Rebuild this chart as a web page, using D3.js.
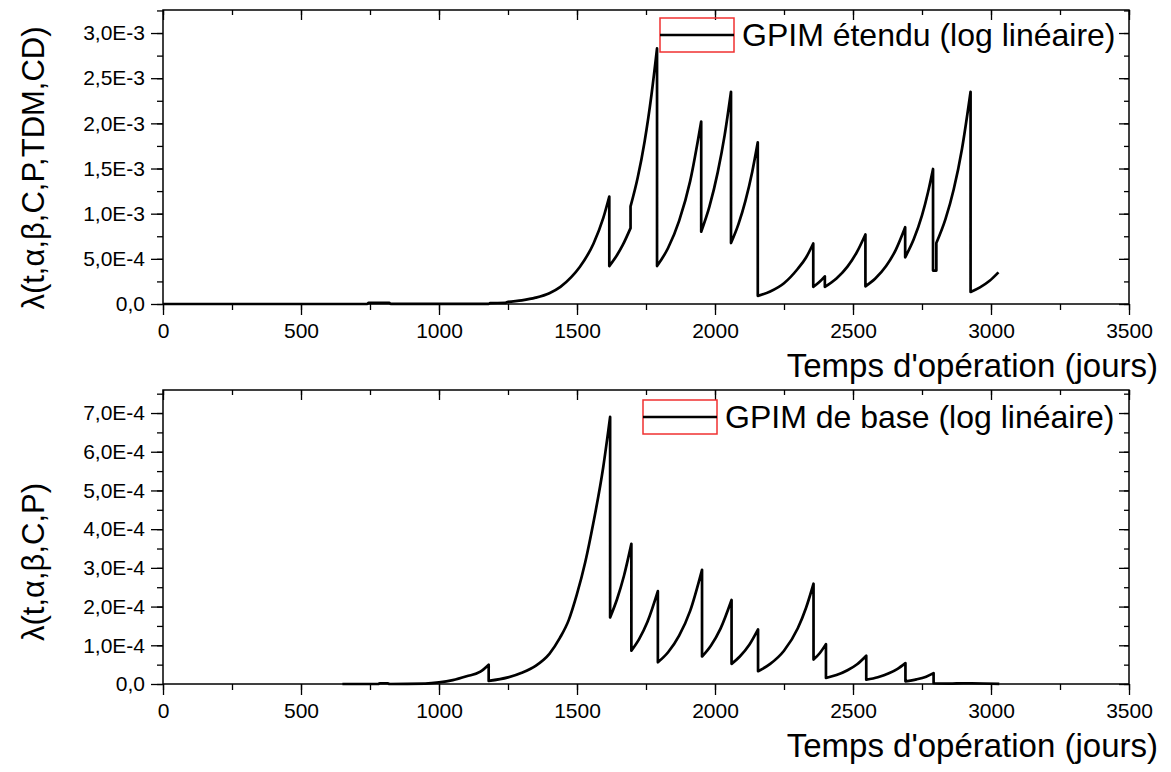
<!DOCTYPE html>
<html>
<head>
<meta charset="utf-8">
<title>GPIM</title>
<style>
  body { margin: 0; background: #fff; }
  svg text { font-family: "Liberation Sans", Arial, sans-serif; fill: #000; }
  .axis path { display: none; }
  .axis line { stroke: #000; stroke-width: 1.3px; }
  .axis text { font-size: 21px; }
</style>
</head>
<body>
<svg id="chart" width="1171" height="772"></svg>
<script src="https://cdnjs.cloudflare.com/ajax/libs/d3/7.8.5/d3.min.js"></script>
<script>
// top panel: GPIM étendu (days, rate)
var topDays = [0, 740, 745, 820, 825, 1180, 1185, 1240, 1245, 1300, 1350, 1400, 1440, 1480, 1510, 1560, 1595, 1617,
  1617, 1640, 1665, 1694,
  1694, 1720, 1745, 1770, 1790,
  1790, 1830, 1870, 1910, 1950,
  1950, 1980, 2010, 2035, 2058,
  2058, 2085, 2110, 2135, 2155,
  2155, 2200, 2250, 2300, 2330, 2356,
  2356, 2377, 2398,
  2398, 2440, 2480, 2515, 2545,
  2545, 2580, 2620, 2655, 2689,
  2689, 2720, 2750, 2772, 2790,
  2790, 2802,
  2802, 2835, 2865, 2895, 2926,
  2926, 2960, 2995, 3027];
var topRate = [0, 0, 0.012e-3, 0.012e-3, 0.002e-3, 0.002e-3, 0.01e-3, 0.012e-3, 0.02e-3, 0.04e-3, 0.07e-3, 0.12e-3, 0.19e-3, 0.30e-3, 0.41e-3, 0.67e-3, 0.95e-3, 1.19e-3,
  0.42e-3, 0.517e-3, 0.648e-3, 0.84e-3,
  1.08e-3, 1.40e-3, 1.80e-3, 2.32e-3, 2.83e-3,
  0.42e-3, 0.62e-3, 0.92e-3, 1.36e-3, 2.02e-3,
  0.80e-3, 1.08e-3, 1.46e-3, 1.87e-3, 2.35e-3,
  0.675e-3, 0.885e-3, 1.14e-3, 1.465e-3, 1.79e-3,
  0.09e-3, 0.139e-3, 0.23e-3, 0.39e-3, 0.515e-3, 0.67e-3,
  0.19e-3, 0.24e-3, 0.306e-3,
  0.19e-3, 0.283e-3, 0.414e-3, 0.58e-3, 0.77e-3,
  0.196e-3, 0.28e-3, 0.42e-3, 0.60e-3, 0.85e-3,
  0.517e-3, 0.716e-3, 0.98e-3, 1.24e-3, 1.495e-3,
  0.37e-3, 0.37e-3,
  0.675e-3, 0.94e-3, 1.27e-3, 1.72e-3, 2.35e-3,
  0.133e-3, 0.184e-3, 0.257e-3, 0.35e-3];

// bottom panel: GPIM de base
var baseDays = [650, 780, 785, 815, 820, 950, 1000, 1050, 1100, 1150, 1180,
  1180, 1250, 1300, 1350, 1400, 1438, 1470, 1499, 1530, 1559, 1595, 1620,
  1620, 1645, 1670, 1697,
  1697, 1725, 1755, 1793,
  1793, 1830, 1870, 1910, 1953,
  1953, 1985, 2020, 2060,
  2060, 2090, 2125, 2156,
  2156, 2200, 2250, 2300, 2330, 2357,
  2357, 2380, 2402,
  2402, 2440, 2480, 2515, 2548,
  2548, 2590, 2630, 2660, 2690,
  2690, 2730, 2765, 2792,
  2792, 2850, 2900, 2930, 3030];
var baseRate = [0, 0, 0.02e-4, 0.02e-4, 0, 0.01e-4, 0.04e-4, 0.1e-4, 0.2e-4, 0.32e-4, 0.5e-4,
  0.08e-4, 0.17e-4, 0.29e-4, 0.47e-4, 0.78e-4, 1.19e-4, 1.65e-4, 2.3e-4, 3.15e-4, 4.15e-4, 5.6e-4, 6.9e-4,
  1.72e-4, 2.19e-4, 2.79e-4, 3.62e-4,
  0.86e-4, 1.16e-4, 1.60e-4, 2.40e-4,
  0.56e-4, 0.82e-4, 1.25e-4, 1.89e-4, 2.95e-4,
  0.71e-4, 0.99e-4, 1.43e-4, 2.17e-4,
  0.52e-4, 0.71e-4, 1.02e-4, 1.41e-4,
  0.33e-4, 0.52e-4, 0.86e-4, 1.44e-4, 1.97e-4, 2.59e-4,
  0.63e-4, 0.8e-4, 1.03e-4,
  0.155e-4, 0.23e-4, 0.355e-4, 0.51e-4, 0.73e-4,
  0.11e-4, 0.176e-4, 0.275e-4, 0.385e-4, 0.54e-4,
  0.07e-4, 0.12e-4, 0.19e-4, 0.28e-4,
  0.02e-4, 0.01e-4, 0.02e-4, 0.02e-4, 0.005e-4];

var xTicks = [0, 500, 1000, 1500, 2000, 2500, 3000, 3500];
var topTicks = [0, 5e-4, 1e-3, 1.5e-3, 2e-3, 2.5e-3, 3e-3];
var topTickLabels = ["0,0", "5,0E-4", "1,0E-3", "1,5E-3", "2,0E-3", "2,5E-3", "3,0E-3"];
var baseTicks = [0, 1e-4, 2e-4, 3e-4, 4e-4, 5e-4, 6e-4, 7e-4];
var baseTickLabels = ["0,0", "1,0E-4", "2,0E-4", "3,0E-4", "4,0E-4", "5,0E-4", "6,0E-4", "7,0E-4"];

var svg = d3.select("#chart");
var left = 163, right = 1129;

function panel(o) {
  var x = d3.scaleLinear().domain([0, 3500]).range([left, right]);
  var y = d3.scaleLinear().domain([0, o.ymax]).range([o.bottom, o.top]);
  var g = svg.append("g");

  var xMinor = d3.range(0, 3501, 250);
  var yMinor = d3.range(0, o.ymax + 1e-12, o.minorStep);

  // minor ticks
  g.append("g").attr("class", "axis").attr("transform", "translate(0," + o.bottom + ")")
    .call(d3.axisBottom(x).tickValues(xMinor).tickSize(6).tickFormat(""));
  g.append("g").attr("class", "axis").attr("transform", "translate(0," + o.top + ")")
    .call(d3.axisBottom(x).tickValues(xMinor).tickSize(5).tickFormat(""));
  g.append("g").attr("class", "axis").attr("transform", "translate(" + left + ",0)")
    .call(d3.axisLeft(y).tickValues(yMinor).tickSize(6).tickFormat(""));
  g.append("g").attr("class", "axis").attr("transform", "translate(" + right + ",0)")
    .call(d3.axisLeft(y).tickValues(yMinor).tickSize(5).tickFormat(""));

  // major ticks
  g.append("g").attr("class", "axis").attr("transform", "translate(0," + o.bottom + ")")
    .call(d3.axisBottom(x).tickValues(xTicks).tickSize(11).tickPadding(8).tickFormat(d3.format("d")));
  g.append("g").attr("class", "axis").attr("transform", "translate(0," + o.top + ")")
    .call(d3.axisBottom(x).tickValues(xTicks).tickSize(10).tickFormat(""));
  g.append("g").attr("class", "axis").attr("transform", "translate(" + left + ",0)")
    .call(d3.axisLeft(y).tickValues(o.ticks).tickSize(12).tickPadding(6)
      .tickFormat(function(d, i){ return o.labels[i]; }));
  g.append("g").attr("class", "axis").attr("transform", "translate(" + right + ",0)")
    .call(d3.axisLeft(y).tickValues(o.ticks).tickSize(10).tickFormat(""));

  g.append("rect")
    .attr("x", left).attr("y", o.top)
    .attr("width", right - left).attr("height", o.bottom - o.top)
    .attr("fill", "none").attr("stroke", "#000").attr("stroke-width", 1.5);

  // split the series at the jumps (repeated day), smooth each piece, join with verticals
  var pts = d3.zip(o.days, o.rate);
  var pieces = [[pts[0]]];
  for (var i = 1; i < pts.length; i++) {
    if (pts[i][0] === pts[i - 1][0]) pieces.push([pts[i]]);
    else pieces[pieces.length - 1].push(pts[i]);
  }
  var line = d3.line().curve(d3.curveMonotoneX)
    .x(function(d){ return x(d[0]); }).y(function(d){ return y(d[1]); });
  var d = pieces.map(function(p, k){
    var s = p.length > 1 ? line(p) : "M" + x(p[0][0]) + "," + y(p[0][1]);
    return k === 0 ? s : "L" + s.slice(1);
  }).join("");
  g.append("path")
    .attr("d", d)
    .attr("fill", "none").attr("stroke", "#000")
    .attr("stroke-width", 2.7).attr("stroke-linejoin", "round");

  // x title
  g.append("text").attr("x", 1158).attr("y", o.bottom + 73)
    .attr("text-anchor", "end").style("font-size", "33px")
    .text("Temps d'opération (jours)");

  // y title
  g.append("text")
    .attr("transform", "translate(44," + o.ycenter + ") rotate(-90)")
    .attr("text-anchor", "middle").style("font-size", "31px")
    .text(o.ytitle);

  // legend (with the red selection box)
  g.append("rect").attr("x", o.legX).attr("y", o.legY - 17)
    .attr("width", 74).attr("height", 34)
    .attr("fill", "none").attr("stroke", "#f03030").attr("stroke-width", 1.5);
  g.append("line").attr("x1", o.legX).attr("x2", o.legX + 74)
    .attr("y1", o.legY).attr("y2", o.legY)
    .attr("stroke", "#000").attr("stroke-width", 2.7);
  g.append("text").attr("x", o.legX + 82).attr("y", o.legY + 11)
    .style("font-size", "32px").text(o.legend);
}

panel({
  top: 10, bottom: 304, ymax: 3.255e-3, minorStep: 2.5e-4,
  ticks: topTicks, labels: topTickLabels,
  days: topDays, rate: topRate,
  ytitle: "λ(t,α,β,C,P,TDM,CD)", ycenter: 168,
  legX: 660, legY: 35, legend: "GPIM étendu (log linéaire)"
});

panel({
  top: 390, bottom: 684, ymax: 7.595e-4, minorStep: 0.5e-4,
  ticks: baseTicks, labels: baseTickLabels,
  days: baseDays, rate: baseRate,
  ytitle: "λ(t,α,β,C,P)", ycenter: 562,
  legX: 643, legY: 417, legend: "GPIM de base (log linéaire)"
});
</script>
</body>
</html>
